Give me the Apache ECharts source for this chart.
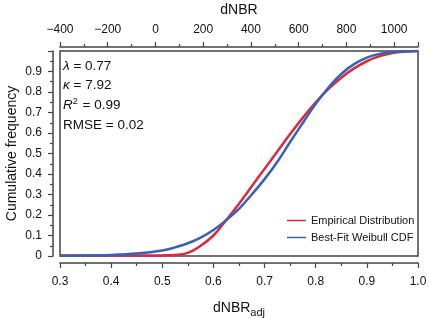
<!DOCTYPE html>
<html>
<head>
<meta charset="utf-8">
<script src="https://cdn.jsdelivr.net/npm/echarts@6/dist/echarts.min.js"></script>
<style>
  html, body { margin: 0; padding: 0; background: #fff; }
  #chart { width: 429px; height: 319px; }
</style>
</head>
<body>
<div id="chart"></div>
<script>
// dNBR_adj sample positions
const xValues = [0.3, 0.35, 0.4, 0.45, 0.5, 0.525, 0.55, 0.575, 0.6, 0.625, 0.65, 0.675,
  0.7, 0.725, 0.75, 0.775, 0.8, 0.825, 0.85, 0.875, 0.9, 0.925, 0.95, 0.975, 1.0];
// cumulative frequency
const empiricalValues = [0.002, 0.002, 0.002, 0.002, 0.003, 0.005, 0.015, 0.05, 0.1, 0.175, 0.255, 0.34,
  0.425, 0.51, 0.595, 0.675, 0.75, 0.815, 0.87, 0.915, 0.95, 0.975, 0.99, 0.997, 1.0];
const weibullValues = [0.001, 0.002, 0.005, 0.012, 0.027, 0.042, 0.062, 0.09, 0.127, 0.175, 0.23, 0.3,
  0.375, 0.46, 0.556, 0.65, 0.742, 0.822, 0.888, 0.936, 0.968, 0.986, 0.995, 0.998, 1.0];
const fitStats = ['{i|λ} = 0.77', '{i|κ} = 7.92', '{i|R}{sup|2} = 0.99', 'RMSE = 0.02'];

const axisColor = '#444';
const font = 'Liberation Sans, Arial, sans-serif';

const chart = echarts.init(document.getElementById('chart'));

const pairs = vals => xValues.map((x, i) => [x, vals[i]]);

chart.setOption({
  animation: false,
  textStyle: { fontFamily: font },
  grid: {
    left: 60, right: 11, top: 51, bottom: 63,
    outerBoundsMode: 'none', containLabel: false,
    show: true, borderColor: axisColor, borderWidth: 1.5
  },
  legend: {
    orient: 'vertical',
    left: 282, top: 209,
    icon: 'rect',
    itemWidth: 19, itemHeight: 1.5,
    itemGap: 4,
    textStyle: { fontSize: 11, color: '#111', lineHeight: 13 },
    data: ['Empirical Distribution', 'Best-Fit Weibull CDF']
  },
  xAxis: [
    {
      type: 'value', position: 'bottom', offset: 7,
      min: 0.3, max: 1.0, interval: 0.1,
      name: '{a|dNBR}{s|adj}',
      nameLocation: 'middle', nameGap: 35, nameMoveOverlap: false,
      nameTextStyle: {
        rich: {
          a: { fontSize: 14, color: '#111', fontFamily: font },
          s: { fontSize: 11, color: '#111', fontFamily: font, padding: [9, 0, 0, 0] }
        }
      },
      axisLine: { onZero: false, lineStyle: { color: axisColor, width: 1.5 } },
      axisTick: { inside: false, length: 5, lineStyle: { color: axisColor, width: 1.2 } },
      minorTick: { show: true, splitNumber: 2, length: 3, lineStyle: { color: axisColor, width: 1.2 } },
      splitLine: { show: false },
      axisLabel: { fontSize: 12, color: '#111', margin: 13, formatter: v => v.toFixed(1) }
    },
    {
      type: 'value', position: 'top', offset: 4,
      min: -400, max: 1100, interval: 200,
      name: 'dNBR',
      nameLocation: 'middle', nameGap: 30, nameMoveOverlap: false,
      nameTextStyle: { fontSize: 14, color: '#111' },
      axisLine: { onZero: false, lineStyle: { color: axisColor, width: 1.5 } },
      axisTick: { inside: false, length: 5, lineStyle: { color: axisColor, width: 1.2 } },
      minorTick: { show: true, splitNumber: 2, length: 3, lineStyle: { color: axisColor, width: 1.2 } },
      splitLine: { show: false },
      axisLabel: {
        fontSize: 12, color: '#111', margin: 11, showMaxLabel: false,
        formatter: v => (v < 0 ? '\u2212' + Math.abs(v) : String(v))
      }
    }
  ],
  yAxis: {
    type: 'value', position: 'left', offset: 7,
    min: 0, max: 1, interval: 0.1,
    name: 'Cumulative frequency',
    nameLocation: 'middle', nameGap: 34, nameMoveOverlap: false,
    nameTextStyle: { fontSize: 14, color: '#111' },
    axisLine: { show: true, onZero: false, lineStyle: { color: axisColor, width: 1.5 } },
    axisTick: { show: true, inside: false, length: 5, lineStyle: { color: axisColor, width: 1.2 } },
    minorTick: { show: true, splitNumber: 2, length: 3, lineStyle: { color: axisColor, width: 1.2 } },
    splitLine: { show: false },
    axisLabel: {
      fontSize: 12, color: '#111', margin: 11,
      formatter: v => (v >= 1 ? '' : v === 0 ? '0' : v.toFixed(1))
    }
  },
  graphic: [
    {
      type: 'text', left: 63, top: 56,
      style: {
        text: fitStats.join('\n'),
        font: '13.5px ' + font,
        fill: '#111',
        lineHeight: 19.7,
        rich: {
          i: { fontStyle: 'italic', fontSize: 13.5, fontFamily: font, lineHeight: 19.7 },
          sup: { fontSize: 9, fontFamily: font, padding: [0, 1, 8, 0], lineHeight: 19.7 }
        }
      }
    }
  ],
  series: [
    {
      name: 'Empirical Distribution', type: 'line', xAxisIndex: 0,
      data: pairs(empiricalValues), smooth: 0.4, showSymbol: false, symbol: 'none',
      lineStyle: { color: '#dc2a3c', width: 2.5 }, itemStyle: { color: '#dc2a3c' }
    },
    {
      name: 'Best-Fit Weibull CDF', type: 'line', xAxisIndex: 0,
      data: pairs(weibullValues), smooth: 0.4, showSymbol: false, symbol: 'none',
      lineStyle: { color: '#3562bb', width: 2.5 }, itemStyle: { color: '#3562bb' }
    }
  ]
});
</script>
</body>
</html>
